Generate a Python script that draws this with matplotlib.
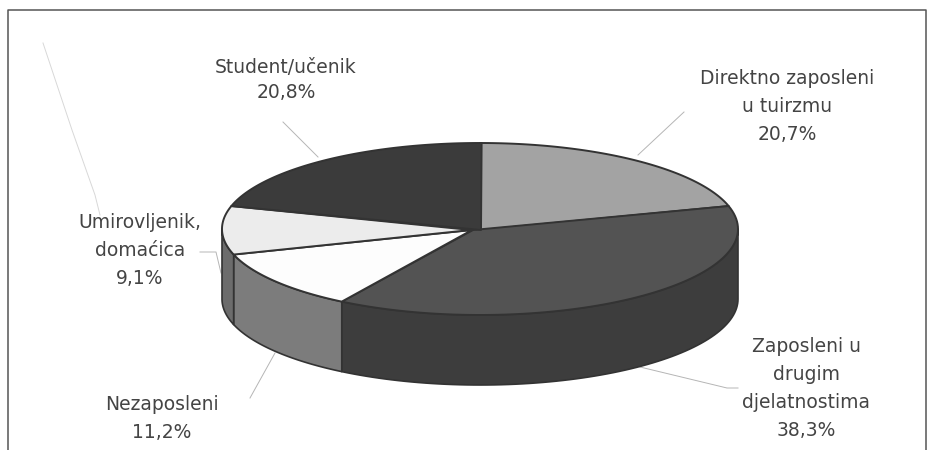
import numpy as np
import matplotlib
matplotlib.use("Agg")
import matplotlib.pyplot as plt

labels = ["Direktno zaposleni\nu tuirzmu", "Zaposleni u\ndrugim\ndjelatnostima", "Nezaposleni",
          "Umirovljenik,\ndomaćica", "Student/učenik"]
values = [20.7, 38.3, 11.2, 9.1, 20.8]
top_colors = ["#a3a3a3", "#535353", "#fdfdfd", "#ececec", "#3b3b3b"]
side_colors = ["#666666", "#3d3d3d", "#7c7c7c", "#6c6c6c", "#2a2a2a"]
label_pos = [(787, 107), (806, 388), (162, 418), (140, 251), (286, 80)]
line_gap = [1.6, 1.6, 1.6, 1.6, 1.42]

# pie geometry in pixels
cx, cy = 480, 229
rx, ry = 258, 86
depth = 70
apex_x = [481, 473, 472, 471, 481]
edge = "#333333"


def rim(a, b):
    t = np.radians(np.linspace(a, b, 80))
    return cx + rx * np.sin(t), cy - ry * np.cos(t)


fig = plt.figure(figsize=(9.38, 4.5), dpi=100)
ax = fig.add_axes([0, 0, 1, 1])
ax.set_xlim(0, 938)
ax.set_ylim(450, 0)
ax.axis("off")

# frame, open at the bottom
ax.plot([8, 8, 926, 926], [450, 10, 10, 450], color="#555555", lw=1.1)

# leader lines
leaders = [([283, 318], [122, 157]), ([684, 638], [112, 155]),
           ([200, 216, 221], [252, 252, 273]), ([275, 250], [353, 398]),
           ([640, 727, 738], [367, 388, 388])]
for xs, ys in leaders:
    ax.plot(xs, ys, color="#b5b5b5", lw=0.7, zorder=1)
ax.plot([43, 72, 95, 100], [43, 130, 195, 215], color="#d8d8d8", lw=0.7, zorder=1)

# walls then tops
angles = np.cumsum([0] + values) * 3.6
for i in range(len(values)):
    a, b = angles[i], angles[i + 1]
    a2, b2 = max(a, 90), min(b, 270)
    if a2 < b2:
        x, y = rim(a2, b2)
        ax.fill(np.r_[x, x[::-1]], np.r_[y, y[::-1] + depth], fc=side_colors[i],
                ec=edge, lw=1.2, zorder=2, joinstyle="round")

for i in range(len(values)):
    x, y = rim(angles[i], angles[i + 1])
    ax.fill(np.r_[apex_x[i], x], np.r_[cy + 1, y], fc=top_colors[i], ec=edge, lw=1.4,
            zorder=3, joinstyle="round")

for i in range(len(values)):
    s = labels[i] + "\n" + ("%.1f%%" % values[i]).replace(".", ",")
    ax.text(label_pos[i][0], label_pos[i][1], s, ha="center", va="center",
            fontsize=13.5, color="#444444", family=["DejaVu Sans"], linespacing=line_gap[i],
            multialignment="center", zorder=4)

fig.savefig("out.png", dpi=100)
